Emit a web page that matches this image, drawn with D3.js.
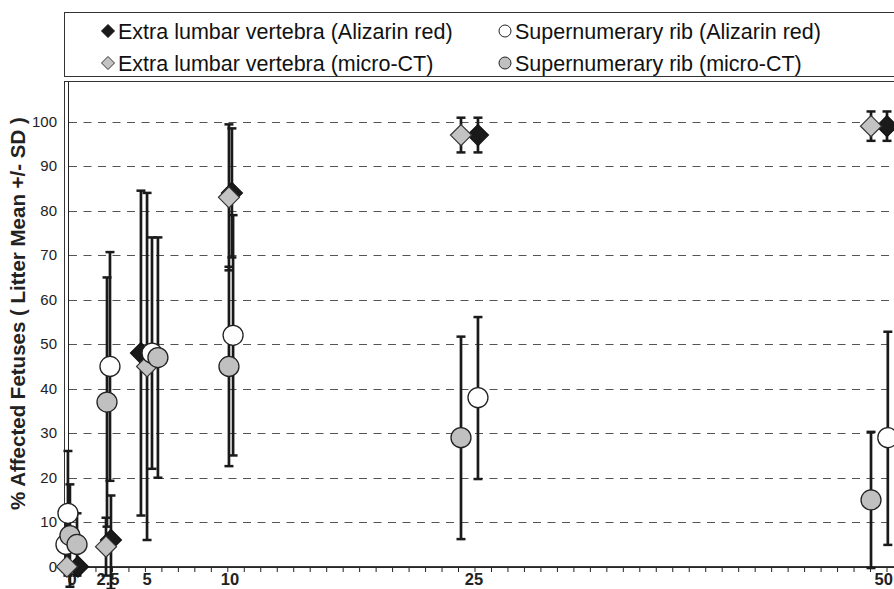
<!DOCTYPE html>
<html><head><meta charset="utf-8">
<script src="https://cdn.jsdelivr.net/npm/d3@7"></script>
<style>body{margin:0;background:#fff}svg{display:block}</style>
</head><body>
<svg id="c" width="894" height="589"></svg>
<script>
// ---- data ----
const seriesNames = ["Extra lumbar vertebra (Alizarin red)", "Supernumerary rib (Alizarin red)",
                     "Extra lumbar vertebra (micro-CT)", "Supernumerary rib (micro-CT)"];
// plotted dose position, mean, lower (mean-SD), upper (mean+SD)
const elvAlizDose = [0.91, 2.91, 4.73, 10.25, 25.18, 50.0];
const elvAlizMean = [0, 6, 48, 84, 97, 99];
const elvAlizLow  = [0, -5, 11.5, 69.5, 93.1, 95.7];
const elvAlizHigh = [0, 16, 84.5, 98.5, 100.9, 102.3];

const elvCtDose = [0.24, 2.61, 5.1, 10.07, 24.15, 49.03];
const elvCtMean = [0, 4.5, 45, 83, 97, 99];
const elvCtLow  = [0, -2, 6, 66.6, 93.1, 95.7];
const elvCtHigh = [0, 11, 84, 99.4, 100.9, 102.3];

const srAlizDose = [0.18, 0.3, 2.85, 5.4, 10.32, 25.18, 50.05];
const srAlizMean = [5, 12, 45, 48, 52, 38, 29];
const srAlizLow  = [-1, -2, 19.3, 22, 25, 19.7, 4.9];
const srAlizHigh = [11, 26, 70.7, 74, 79, 56.1, 52.8];

const srCtDose = [0.42, 0.85, 2.67, 5.76, 10.07, 24.15, 49.03];
const srCtMean = [7, 5, 37, 47, 45, 29, 15];
const srCtLow  = [-4.5, -2, 9, 20, 22.6, 6.2, -0.3];
const srCtHigh = [18.5, 12, 65, 74, 67.4, 51.7, 30.3];

const yTicks = [0, 10, 20, 30, 40, 50, 60, 70, 80, 90, 100];
const xLabels = ["0", "2.5", "5", "10", "25", "50"];
const xLabelDose = [0.55, 2.73, 5.1, 10.13, 24.94, 49.8];
const minorTicks = d3.range(0, 51, 1);

// ---- drawing ----
const FONT = "'Liberation Sans', Arial, Helvetica, sans-serif";
const svg = d3.select("#c");
const x = d3.scaleLinear().domain([0, 50]).range([63, 887]);
const y = d3.scaleLinear().domain([0, 100]).range([566.7, 121.7]);
const plotTop = 81, plotLeft = 64, plotRight = 900;

const mk = (dose, mean, low, high) => dose.map((d, i) => ({d, m: mean[i], lo: low[i], hi: high[i]}));
const S = {
  elvAliz: mk(elvAlizDose, elvAlizMean, elvAlizLow, elvAlizHigh),
  elvCt: mk(elvCtDose, elvCtMean, elvCtLow, elvCtHigh),
  srAliz: mk(srAlizDose, srAlizMean, srAlizLow, srAlizHigh),
  srCt: mk(srCtDose, srCtMean, srCtLow, srCtHigh)
};

// legend box
svg.append("rect").attr("x", 64.5).attr("y", 12.5).attr("width", 840).attr("height", 64)
  .attr("fill", "none").attr("stroke", "#333").attr("stroke-width", 1);

// plot frame
svg.append("rect").attr("x", plotLeft + 0.5).attr("y", plotTop + 0.5)
  .attr("width", plotRight - plotLeft).attr("height", 566.7 - plotTop)
  .attr("fill", "none").attr("stroke", "#333").attr("stroke-width", 1);
svg.append("line").attr("x1", 68.5).attr("x2", 68.5).attr("y1", plotTop + 1).attr("y2", 567)
  .attr("stroke", "#222").attr("stroke-width", 1);

// gridlines
svg.append("g").selectAll("line").data(yTicks.filter(t => t > 0)).join("line")
  .attr("x1", 69).attr("x2", 894).attr("y1", d => Math.round(y(d)) + 0.5).attr("y2", d => Math.round(y(d)) + 0.5)
  .attr("stroke", "#555").attr("stroke-width", 1.2).attr("stroke-dasharray", "8,6.5");

// y labels
svg.append("g").selectAll("text").data(yTicks).join("text")
  .attr("x", 57).attr("y", d => y(d) + 5).attr("text-anchor", "end")
  .attr("font-family", FONT).attr("font-size", 15).attr("fill", "#222").text(d => d);

// y title
svg.append("text").attr("transform", "translate(25,510) rotate(-90)")
  .attr("font-family", FONT).attr("font-size", 20.5).attr("font-weight", "bold").attr("fill", "#222")
  .text("% Affected Fetuses ( Litter Mean +/- SD )");

// x axis
svg.append("line").attr("x1", 63).attr("x2", 894).attr("y1", 567).attr("y2", 567)
  .attr("stroke", "#111").attr("stroke-width", 1.6);
svg.append("g").selectAll("line").data(minorTicks).join("line")
  .attr("x1", d => x(d)).attr("x2", d => x(d)).attr("y1", 567).attr("y2", 572)
  .attr("stroke", "#222").attr("stroke-width", 1);
svg.append("g").selectAll("text").data(xLabels).join("text")
  .attr("x", (d, i) => x(xLabelDose[i])).attr("y", 585).attr("text-anchor", "middle")
  .attr("font-family", FONT).attr("font-size", 16.5).attr("font-weight", "bold").attr("fill", "#222")
  .text(d => d);

// error bars
const allPts = [].concat(S.elvAliz, S.elvCt, S.srAliz, S.srCt).filter(p => p.hi !== p.lo);
const eb = svg.append("g").attr("stroke", "#1a1a1a");
eb.selectAll("line.v").data(allPts).join("line").attr("class", "v")
  .attr("x1", p => x(p.d)).attr("x2", p => x(p.d)).attr("y1", p => y(p.lo)).attr("y2", p => y(p.hi))
  .attr("stroke-width", 2.7);
eb.selectAll("line.ch").data(allPts).join("line").attr("class", "ch")
  .attr("x1", p => x(p.d) - 4.5).attr("x2", p => x(p.d) + 4.5).attr("y1", p => y(p.hi)).attr("y2", p => y(p.hi))
  .attr("stroke-width", 2.5);
eb.selectAll("line.cl").data(allPts).join("line").attr("class", "cl")
  .attr("x1", p => x(p.d) - 4.5).attr("x2", p => x(p.d) + 4.5).attr("y1", p => y(p.lo)).attr("y2", p => y(p.lo))
  .attr("stroke-width", 2.5);

// markers
const diamond = r => `M0,${-r}L${r},0L0,${r}L${-r},0Z`;
const styles = {
  elvAliz: {shape: "d", fill: "#1a1a1a", stroke: "#111"},
  elvCt: {shape: "d", fill: "#c3c3c3", stroke: "#333"},
  srAliz: {shape: "c", fill: "#ffffff", stroke: "#222"},
  srCt: {shape: "c", fill: "#c0c0c0", stroke: "#222"}
};
["elvAliz", "elvCt", "srAliz", "srCt"].forEach(k => {
  const st = styles[k];
  const g = svg.append("g");
  if (st.shape === "d") {
    g.selectAll("path").data(S[k]).join("path")
      .attr("transform", p => `translate(${x(p.d)},${y(p.m)})`).attr("d", diamond(10.5))
      .attr("fill", st.fill).attr("stroke", st.stroke).attr("stroke-width", 1.2);
  } else {
    g.selectAll("circle").data(S[k]).join("circle")
      .attr("cx", p => x(p.d)).attr("cy", p => y(p.m)).attr("r", 10)
      .attr("fill", st.fill).attr("stroke", st.stroke).attr("stroke-width", 1.3);
  }
});

// legend entries
const legendItems = [
  {k: "elvAliz", name: seriesNames[0], lx: 108, ly: 31},
  {k: "srAliz", name: seriesNames[1], lx: 505, ly: 31},
  {k: "elvCt", name: seriesNames[2], lx: 108, ly: 63},
  {k: "srCt", name: seriesNames[3], lx: 505, ly: 63}
];
legendItems.forEach(it => {
  const st = styles[it.k];
  if (st.shape === "d") {
    svg.append("path").attr("transform", `translate(${it.lx},${it.ly})`).attr("d", diamond(6.5))
      .attr("fill", st.fill).attr("stroke", st.stroke).attr("stroke-width", 1);
  } else {
    svg.append("circle").attr("cx", it.lx).attr("cy", it.ly).attr("r", 6)
      .attr("fill", st.fill).attr("stroke", st.stroke).attr("stroke-width", 1);
  }
  svg.append("text").attr("x", it.lx + 10).attr("y", it.ly + 7.5)
    .attr("font-family", FONT).attr("font-size", 21.5).attr("fill", "#111").text(it.name);
});
</script>
</body></html>
